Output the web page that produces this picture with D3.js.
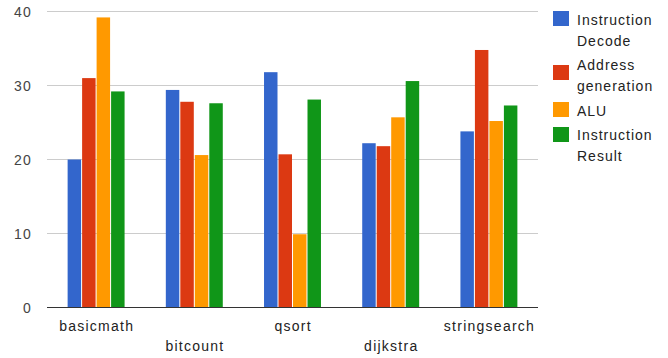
<!DOCTYPE html>
<html>
<head>
<meta charset="utf-8">
<script src="https://cdnjs.cloudflare.com/ajax/libs/d3/7.8.5/d3.min.js"></script>
<style>
  body { margin: 0; background: #fff; }
  text { font-family: "Liberation Sans", Arial, sans-serif; font-size: 14px; fill: #222; }
</style>
</head>
<body>
<div id="chart"></div>
<script>
// data
const categories = ["basicmath", "bitcount", "qsort", "dijkstra", "stringsearch"];
const seriesNames = [["Instruction", "Decode"], ["Address", "generation"], ["ALU"], ["Instruction", "Result"]];
const seriesColors = ["#3366cc", "#dc3912", "#ff9900", "#109618"];
const instructionDecode = [20.0, 29.4, 31.8, 22.2, 23.8];
const addressGeneration = [31.0, 27.8, 20.7, 21.8, 34.8];
const alu = [39.2, 20.6, 9.9, 25.7, 25.2];
const instructionResult = [29.2, 27.6, 28.1, 30.6, 27.3];
const yTicks = [0, 10, 20, 30, 40];

const series = [instructionDecode, addressGeneration, alu, instructionResult];

const width = 668, height = 358;
const plot = { left: 47, right: 538, top: 11.5, bottom: 307.5 };

const svg = d3.select("#chart").append("svg")
    .attr("width", width)
    .attr("height", height);

const x0 = d3.scaleBand()
    .domain(categories)
    .range([plot.left, plot.right])
    .paddingInner(0.42)
    .paddingOuter(0.21);

const x1 = d3.scaleBand()
    .domain(d3.range(series.length))
    .range([0, x0.bandwidth()])
    .paddingInner(0.07);

const y = d3.scaleLinear()
    .domain([0, 40])
    .range([plot.bottom, plot.top]);

// gridlines
svg.append("g")
    .selectAll("line")
    .data(yTicks.filter(d => d > 0))
    .enter()
    .append("line")
    .attr("x1", plot.left)
    .attr("x2", plot.right)
    .attr("y1", d => y(d))
    .attr("y2", d => y(d))
    .attr("stroke", "#cccccc")
    .attr("stroke-width", 1);

// y labels
svg.append("g")
    .selectAll("text")
    .data(yTicks)
    .enter()
    .append("text")
    .attr("x", 32)
    .attr("y", d => y(d))
    .attr("dy", "0.36em")
    .attr("text-anchor", "end")
    .style("letter-spacing", "1.2px")
    .style("fill", "#444")
    .text(d => d);

// bars
const groups = svg.append("g")
    .selectAll("g")
    .data(categories)
    .enter()
    .append("g")
    .attr("transform", d => `translate(${x0(d)},0)`);

groups.selectAll("rect")
    .data((d, i) => series.map((s, k) => ({ k: k, v: s[i] })))
    .enter()
    .append("rect")
    .attr("x", d => x1(d.k))
    .attr("y", d => y(d.v))
    .attr("width", x1.bandwidth())
    .attr("height", d => y(0) - y(d.v))
    .attr("fill", d => seriesColors[d.k]);

// baseline
svg.append("line")
    .attr("x1", plot.left)
    .attr("x2", plot.right)
    .attr("y1", y(0))
    .attr("y2", y(0))
    .attr("stroke", "#333")
    .attr("stroke-width", 1);

// x labels, staggered
svg.append("g")
    .selectAll("text")
    .data(categories)
    .enter()
    .append("text")
    .attr("x", d => x0(d) + x0.bandwidth() / 2 + 0.6)
    .attr("y", (d, i) => i % 2 === 0 ? 330.5 : 351)
    .attr("text-anchor", "middle")
    .style("letter-spacing", "1.25px")
    .text(d => d);

// legend
const legendBox = [11, 65, 102, 127];
const legendText = [25, 70, 116, 140];
const legend = svg.append("g")
    .selectAll("g")
    .data(seriesNames)
    .enter()
    .append("g");

legend.append("rect")
    .attr("x", 553)
    .attr("y", (d, i) => legendBox[i])
    .attr("width", 16)
    .attr("height", 15)
    .attr("fill", (d, i) => seriesColors[i]);

legend.each(function(d, i) {
  const t = d3.select(this).append("text")
      .attr("x", 577)
      .attr("y", legendText[i])
      .style("letter-spacing", "1px");
  d.forEach((line, j) => {
    t.append("tspan")
        .attr("x", 577)
        .attr("dy", j === 0 ? 0 : 20.5)
        .text(line);
  });
});
</script>
</body>
</html>
